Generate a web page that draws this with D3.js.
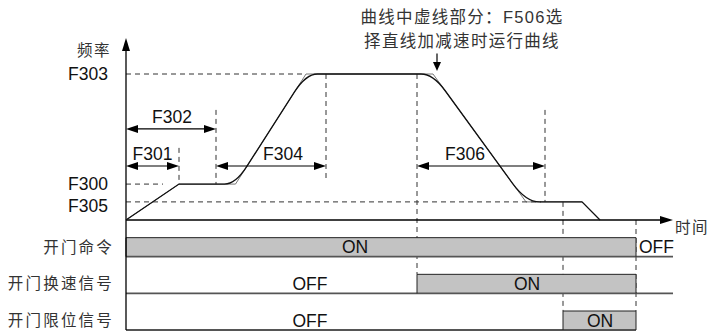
<!DOCTYPE html>
<html lang="zh-CN">
<head>
<meta charset="utf-8">
<title>开门运行曲线</title>
<script src="https://cdn.jsdelivr.net/npm/d3@7"></script>
<style>
  body { margin: 0; background: #fff; }
  svg text { font-family: "Liberation Sans", Arial, "Noto Sans CJK SC", sans-serif; fill: #111; }
  svg text.cn { font-family: "Liberation Sans", "Noto Sans CJK SC", sans-serif; fill: #333; }
</style>
</head>
<body>
<div id="chart"></div>
<script>
"use strict"

// frequency levels (arbitrary Hz units) and their parameter names
const freqNames  = ["F303", "F300", "F305"];
const freqLevels = [50, 12.3, 6.2];
const freqLabelF = [50, 12.3, 5.0];
const freqDashEnd = [36, 7.4, 83];

// run profile: time, frequency, corner rounding (time units)
const profileT     = [0, 10.6, 21.9, 36, 61.4, 80, 91.2, 94.8];
const profileF     = [0, 12.3, 12.3, 50, 50, 6.2, 6.2, 0];
const profileRound = [0, 0, 2.2, 2.3, 2.4, 2.7, 0, 0];

// time spans with double arrows
const spanNames  = ["F301", "F302", "F304", "F306"];
const spanStart  = [0, 0, 18, 58.2];
const spanEnd    = [10.6, 18, 40, 83.8];
const spanLevel  = [18.5, 31.2, 18.5, 18.5];
const spanLabelT = [5.3, 9.2, 31.4, 67.8];

// dashed guide lines: time, top freq, bottom freq (or down to a signal row)
const guideT      = [10.6, 18, 40, 58.2, 83.8, 87.4, 102];
const guideTop    = [24.7, 37.7, 50, 50, 37.7, 6.2, 0];
const guideBottom = [12.3, 12.3, 13.7, null, 6.2, null, null];
const guideRow    = [null, null, null, 1, null, 2, 2];

// door signals
const signalNames = ["开门命令", "开门换速信号", "开门限位信号"];
const signalOn    = [[0, 102], [58.2, 102], [87.4, 102]];
const signalEnd   = [109.4, 109.4, 102];

// state texts
const stateRow    = [0, 0, 1, 1, 2, 2];
const stateText   = ["ON", "OFF", "OFF", "ON", "OFF", "ON"];
const stateT      = [45.8, 102.6, 36.8, 80.2, 36.8, 94.8];
const stateAnchor = ["middle", "start", "middle", "middle", "middle", "middle"];

const note = ["曲线中虚线部分：F506选", "择直线加减速时运行曲线"];

const W = 709, H = 332;
const svg = d3.select("#chart").append("svg")
  .attr("width", W).attr("height", H);

const x = d3.scaleLinear().domain([0, 110]).range([126, 676]);
const y = d3.scaleLinear().domain([0, 50]).range([220, 74]);
const row = d3.scaleBand().domain(signalNames).range([220, 330]);
const barH = 19;
const rowBase = i => row(signalNames[i]) + row.bandwidth();
const rowTop = i => rowBase(i) - barH;

function head(px, py, dir, len, half) {
  len = len || 12; half = half || 4;
  const v = {left: [-1, 0], right: [1, 0], up: [0, -1], down: [0, 1]}[dir];
  const bx = px - v[0] * len, by = py - v[1] * len;
  const nx = -v[1] * half, ny = v[0] * half;
  svg.append("path")
    .attr("d", `M${px},${py}L${bx + nx},${by + ny}L${bx - nx},${by - ny}Z`)
    .attr("fill", "#000");
}

function profilePath(rounded) {
  const p = d3.path();
  const n = profileT.length;
  for (let i = 0; i < n; i++) {
    const px = x(profileT[i]), py = y(profileF[i]);
    const r = rounded ? profileRound[i] : 0;
    if (i === 0) { p.moveTo(px, py); continue; }
    if (!r || i === n - 1) { p.lineTo(px, py); continue; }
    const ka = r / (profileT[i] - profileT[i - 1]);
    const kb = r / (profileT[i + 1] - profileT[i]);
    p.lineTo(x(profileT[i] - r), y(profileF[i] - (profileF[i] - profileF[i - 1]) * ka));
    p.quadraticCurveTo(px, py, x(profileT[i] + r), y(profileF[i] + (profileF[i + 1] - profileF[i]) * kb));
  }
  return p.toString();
}

const dash = "5,4";

// horizontal level guides
freqLevels.forEach((f, i) => {
  svg.append("line")
    .attr("x1", x(0)).attr("x2", x(freqDashEnd[i]))
    .attr("y1", y(f)).attr("y2", y(f))
    .attr("stroke", "#333").attr("stroke-dasharray", dash);
});

// vertical guides
guideT.forEach((t, i) => {
  const y2 = guideRow[i] !== null ? rowTop(guideRow[i]) : y(guideBottom[i]);
  svg.append("line")
    .attr("x1", x(t)).attr("x2", x(t))
    .attr("y1", y(guideTop[i])).attr("y2", y2)
    .attr("stroke", "#333").attr("stroke-dasharray", dash);
});

// signals
signalNames.forEach((name, i) => {
  const on = signalOn[i];
  svg.append("rect")
    .attr("x", x(on[0])).attr("y", rowTop(i))
    .attr("width", x(on[1]) - x(on[0])).attr("height", barH)
    .attr("fill", "#c3c3c3");
  svg.append("line")
    .attr("x1", x(0)).attr("x2", x(signalEnd[i]))
    .attr("y1", rowBase(i)).attr("y2", rowBase(i))
    .attr("stroke", "#555").attr("stroke-width", 1.8);
  svg.append("path")
    .attr("d", `M${x(on[0])},${rowBase(i)}V${rowTop(i)}H${x(on[1])}V${rowBase(i)}`)
    .attr("fill", "none").attr("stroke", "#222").attr("stroke-width", 1);
  svg.append("text").attr("class", "cn")
    .attr("x", 114).attr("y", rowBase(i) - barH / 2).attr("dy", "0.36em")
    .attr("text-anchor", "end")
    .attr("font-size", 15.5).attr("letter-spacing", 2.2)
    .text(name);
});

stateText.forEach((s, k) => {
  svg.append("text")
    .attr("x", x(stateT[k])).attr("y", rowBase(stateRow[k]) - barH / 2).attr("dy", "0.36em")
    .attr("text-anchor", stateAnchor[k]).attr("font-size", 17.5)
    .text(s);
});

// axes
svg.append("line")
  .attr("x1", x(0)).attr("x2", x(109.4) - 10)
  .attr("y1", y(0)).attr("y2", y(0))
  .attr("stroke", "#000").attr("stroke-width", 1.3);
head(x(109.4), y(0), "right", 13, 4);
svg.append("line")
  .attr("x1", x(0)).attr("x2", x(0))
  .attr("y1", y(62.3) + 10).attr("y2", row.range()[1])
  .attr("stroke", "#000").attr("stroke-width", 1.3);
head(x(0), y(62.3), "up", 13, 4);

svg.append("text").attr("class", "cn")
  .attr("x", x(109.4) + 2).attr("y", y(0) + 7).attr("dy", "0.36em")
  .attr("font-size", 15.5).attr("letter-spacing", 1.5)
  .text("时间");
svg.append("text").attr("class", "cn")
  .attr("x", 111).attr("y", y(58.2)).attr("dy", "0.36em")
  .attr("text-anchor", "end").attr("font-size", 15.5).attr("letter-spacing", 1.5)
  .text("频率");

freqNames.forEach((n, i) => {
  svg.append("text")
    .attr("x", 108).attr("y", y(freqLabelF[i])).attr("dy", "0.36em")
    .attr("text-anchor", "end").attr("font-size", 17.5)
    .text(n);
});

// straight-line (linear accel) profile and S-curve profile
svg.append("path").attr("d", profilePath(false))
  .attr("fill", "none").attr("stroke", "#555").attr("stroke-width", 0.8);
svg.append("path").attr("d", profilePath(true))
  .attr("fill", "none").attr("stroke", "#111").attr("stroke-width", 1.3);

// span arrows
spanNames.forEach((n, i) => {
  const yy = y(spanLevel[i]);
  svg.append("line")
    .attr("x1", x(spanStart[i]) + 8).attr("x2", x(spanEnd[i]) - 8)
    .attr("y1", yy).attr("y2", yy)
    .attr("stroke", "#000").attr("stroke-width", 1.2);
  head(x(spanStart[i]), yy, "left");
  head(x(spanEnd[i]), yy, "right");
  svg.append("text")
    .attr("x", x(spanLabelT[i])).attr("y", yy - 6)
    .attr("text-anchor", "middle").attr("font-size", 17.5)
    .text(n);
});

// note with pointer
svg.append("line")
  .attr("x1", x(62.2)).attr("x2", x(62.2))
  .attr("y1", y(57)).attr("y2", y(51) - 8)
  .attr("stroke", "#000").attr("stroke-width", 1.2);
head(x(62.2), y(51), "down", 9, 4);
note.forEach((s, i) => {
  svg.append("text").attr("class", "cn")
    .attr("x", x(67.2)).attr("y", 17 + i * 24).attr("dy", "0.36em")
    .attr("text-anchor", "middle").attr("font-size", 16.5).attr("letter-spacing", 1.3)
    .text(s);
});
</script>
</body>
</html>
